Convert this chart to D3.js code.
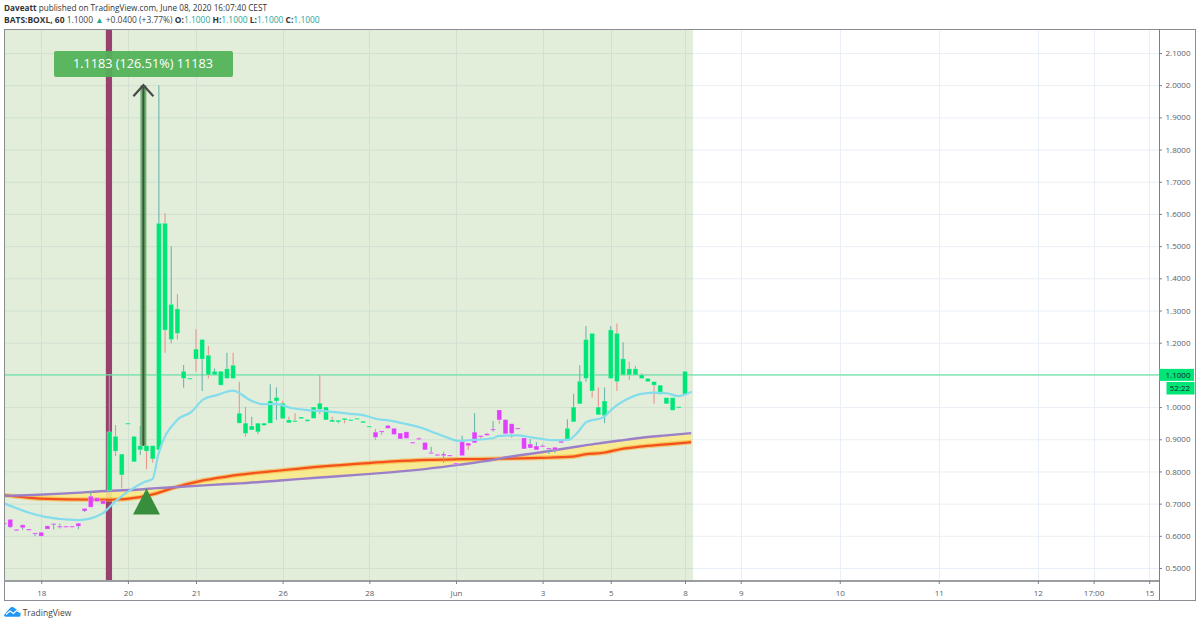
<!DOCTYPE html>
<html><head><meta charset="utf-8">
<script src="https://cdn.jsdelivr.net/npm/d3@7"></script>
<style>
html,body{margin:0;padding:0;background:#fff}
svg{display:block}
text{font-family:"Open Sans",sans-serif}
</style></head><body><svg id="c" width="1200" height="625"></svg>
<script>
const n = null;
const firstBar = -1;
const tops = [.640,.651,.620,.634,.621,.609,.611,.631,.638,.630,.630,.630,.639,.685,.723,.718,.709,
.923,.909,.854,.950,.909,.880,.880,.880,1.571,1.571,1.319,1.305,1.111,1.090,1.180,1.210,1.161,1.111,1.111,1.119,1.130,
.981,.950,.941,.950,.950,1.019,1.030,1.012,.960,.958,.969,.961,1.000,1.012,1.000,.960,.959,.965,.961,.965,.956,.941,
.922,.926,.943,.934,.919,.923,.891,.903,.890,.859,.853,.854,.851,.826,.892,.888,.922,.911,.917,.932,.991,.961,.948,.935,.904,.885,.879,.880,.873,.875,.894,
.934,1.000,1.080,1.210,1.229,1.000,1.019,1.240,1.229,1.150,1.119,1.119,1.100,1.089,1.079,1.068,1.029,1.029,1.001,1.111];
const bottoms = [.637,.627,.616,.625,.617,.607,.599,.621,.635,.627,.627,.627,.630,.677,.689,.707,.699,
.740,.863,.789,.947,.830,.867,.863,.839,.867,1.239,1.210,1.229,1.089,1.087,1.149,1.149,1.100,1.100,1.068,1.089,1.089,
.950,.918,.929,.923,.943,.950,1.019,.964,.951,.954,.964,.956,.965,.993,.960,.954,.954,.960,.958,.963,.951,.939,
.906,.922,.934,.915,.901,.903,.888,.899,.867,.856,.849,.849,.849,.824,.849,.880,.889,.907,.912,.929,.960,.917,.918,.933,.870,.873,.867,.877,.870,.867,.889,
.900,.954,1.010,1.089,1.050,.976,.973,1.089,1.079,1.100,1.100,1.100,1.089,1.079,1.068,1.040,1.010,.990,.999,1.040];
const highs = [n,n,n,n,n,n,n,n,n,.638,n,n,n,n,.739,n,n,
1.100,.944,n,n,n,.941,n,n,2.000,1.602,1.500,1.351,1.131,n,1.242,n,1.190,1.120,n,1.169,1.169,
1.079,1.001,.970,n,n,1.071,1.061,1.020,.970,.981,n,n,n,1.100,n,.970,n,n,n,n,n,n,
.932,n,n,n,n,n,n,.906,n,.877,n,.861,n,n,.911,n,.981,n,.920,.957,n,n,n,n,n,.901,.891,.884,n,n,n,
.962,1.041,1.130,1.252,n,1.061,1.061,1.252,1.260,1.201,1.141,1.128,1.105,n,n,n,n,n,n,n];
const lows = [n,.624,n,.618,n,.599,n,n,.620,.623,n,n,.621,.674,n,n,n,
n,.848,.748,n,n,.851,.807,.827,n,1.169,1.198,1.210,1.060,n,1.110,1.050,1.089,n,n,n,n,
n,.908,n,.916,n,n,.960,n,n,n,n,n,n,.978,n,n,.950,.950,n,n,n,n,
.898,.915,n,n,n,n,n,n,n,n,n,.827,n,n,n,.867,n,.898,n,.923,.948,n,.905,n,n,n,n,n,.854,.858,n,
n,n,n,1.079,1.029,n,.950,n,1.050,n,1.085,n,n,n,1.010,n,n,n,n,n];
const redWickBars = [17,18,22,23,25,27,30,32,36,37,38,44,45,46,50,52,54,59,66,74,76,77,79,81,94,95,98,100,101,102,104];
const magentaSpans = [[-1,15],[59,89]];

const cyanBars = [-.86,.44,3.18,5.6,10.94,14.77,16.91,19.02,21.76,23,23.9,26.88,29.3,31.13,33.34,35.98,38.9,40.82,43.04,45.19,48.42,51.65,54.88,56.98,59.19,61.34,64.04,66.19,68.29,70.5,72.37,74.75,77.98,78.79,81.81,84.44,85.57,87.67,90.1,91.5,93.12,95.8,97.16,99.58,101.73,103.88,106.04,107.91,110.08];
const cyanValues = [.700,.690,.671,.659,.649,.668,.706,.737,.768,.777,.851,.958,.986,1.023,1.037,1.051,1.020,1.009,1.009,.998,.990,.986,.979,.975,.963,.958,.947,.937,.922,.906,.895,.898,.903,.910,.912,.905,.902,.897,.898,.918,.954,.968,.993,1.024,1.040,1.045,1.043,1.034,1.048];

const bandBars = [-.86,3.67,9.11,16.11,20.95,23.65,26.33,30.65,34.96,37.1,43.57,50.03,56.5,61.82,67.27,72.65,77.98,80.2,85.57,90.9,92.84,95.8,98.5,101.7,106,110];
const purpleValues = [.724,.727,.732,.740,.744,.748,.751,.756,.761,.763,.772,.781,.790,.798,.808,.821,.836,.844,.859,.875,.881,.889,.896,.904,.912,.919];
const redValues = [.726,.717,.713,.712,.720,.732,.749,.770,.784,.790,.803,.815,.824,.831,.836,.838,.839,.840,.842,.846,.853,.858,.869,.877,.884,.891];

const priceTicks = [.5,.6,.7,.8,.9,1,1.1,1.2,1.3,1.4,1.5,1.6,1.7,1.8,1.9,2,2.1];
const timeTickBars = [5,19,30,44,58,72,86,97,109,118,134,150,166,175,184];
const timeTickLabels = ["18","20","21","26","28","Jun","3","5","8","9","10","11","12","17:00","15"];
const lastPrice = 1.1, zoneEndBar = 110.3, signalBar = 22, verticalBar = 16;
const arrowBar = 21.5, arrowFrom = .879, arrowTo = 2.0;

const W=1200,H=625, L=4.5,T=29.5,PR=1159,PB=581,FR=1195.5,FB=600.5;
const svg = d3.select("#c");
const x = d3.scaleLinear().domain([0,109]).range([10.3,685]);
const y = d3.scaleLinear().domain([.5,2.1]).range([568,53]);
const bars = d3.range(tops.length).map(k=>k+firstBar);
const isMag = b=>magentaSpans.some(s=>b>=s[0]&&b<=s[1]);

const clipId="plotclip";
svg.append("defs").append("clipPath").attr("id",clipId).append("rect").attr("x",L).attr("y",T).attr("width",PR-L).attr("height",PB-T);

// grid
const grid = svg.append("g");
grid.selectAll("line.h").data(priceTicks).join("line").attr("x1",L).attr("x2",PR).attr("y1",d=>y(d)+.5).attr("y2",d=>y(d)+.5).attr("stroke","#e9eff6");
grid.selectAll("line.v").data(timeTickBars).join("line").attr("y1",T).attr("y2",PB).attr("x1",d=>Math.round(x(d))+.5).attr("x2",d=>Math.round(x(d))+.5).attr("stroke","#e9eff6");

// green zone
svg.append("rect").attr("x",L).attr("y",T).attr("width",x(zoneEndBar)-L).attr("height",PB-T).attr("fill","rgb(110,170,70)").attr("fill-opacity",.2);

// vertical band
svg.append("rect").attr("x",x(verticalBar)-3.5).attr("y",T).attr("width",6.2).attr("height",PB-T).attr("fill","#99406f");

const plot = svg.append("g").attr("clip-path",`url(#${clipId})`);
const bandData = bandBars.map((b,i)=>({b,p:purpleValues[i],r:redValues[i]}));
plot.append("path").datum(bandData).attr("fill","#f8ea8a").attr("fill-opacity",.9)
  .attr("d",d3.area().x(d=>x(d.b)).y0(d=>y(d.p)).y1(d=>y(d.r)).curve(d3.curveMonotoneX));
plot.append("path").datum(bandData).attr("fill","none").attr("stroke","#f9a825").attr("stroke-opacity",.55).attr("stroke-width",4.6)
  .attr("d",d3.line().x(d=>x(d.b)).y(d=>y(d.r)).curve(d3.curveMonotoneX));
plot.append("path").datum(bandData).attr("fill","none").attr("stroke","#f4511e").attr("stroke-width",2.2)
  .attr("d",d3.line().x(d=>x(d.b)).y(d=>y(d.r)).curve(d3.curveMonotoneX));
plot.append("path").datum(bandData).attr("fill","none").attr("stroke","#9b7fc9").attr("stroke-width",2.4)
  .attr("d",d3.line().x(d=>x(d.b)).y(d=>y(d.p)).curve(d3.curveMonotoneX));

// price line
plot.append("line").attr("x1",L).attr("x2",PR).attr("y1",y(lastPrice)).attr("y2",y(lastPrice)).attr("stroke","#6fe3a7").attr("stroke-width",1.2);

// wicks
plot.selectAll("line.w").data(bars).join("line").attr("class","w")
  .attr("x1",b=>x(b)).attr("x2",b=>x(b))
  .attr("y1",(b,i)=>y(highs[i]===null?tops[i]:highs[i]))
  .attr("y2",(b,i)=>y(lows[i]===null?bottoms[i]:lows[i]))
  .attr("stroke",b=>redWickBars.includes(b)?"#e8968d":"#6fb5ad").attr("stroke-width",1.1);

// arrow
const arrow = plot.append("g");
arrow.append("line").attr("x1",x(arrowBar)).attr("x2",x(arrowBar)).attr("y1",y(arrowFrom)).attr("y2",y(arrowTo)).attr("stroke","#4caf50").attr("stroke-opacity",.85).attr("stroke-width",6);
arrow.append("line").attr("x1",x(arrowBar)).attr("x2",x(arrowBar)).attr("y1",y(arrowFrom)).attr("y2",y(arrowTo)).attr("stroke","#4a4a4a").attr("stroke-width",2);
arrow.append("path").attr("fill","none").attr("stroke","#4a4a4a").attr("stroke-width",2.2)
  .attr("d",d3.line()([[x(arrowBar)-10,y(arrowTo)+11],[x(arrowBar),y(arrowTo)],[x(arrowBar)+10,y(arrowTo)+11]]));

// bodies
plot.selectAll("rect.b").data(bars).join("rect").attr("class","b")
  .attr("x",b=>x(b)-2.4).attr("width",4.8)
  .attr("y",(b,i)=>y(tops[i]))
  .attr("height",(b,i)=>Math.max(1.2,y(bottoms[i])-y(tops[i])))
  .attr("fill",b=>isMag(b)?"#e040fb":"#00e676")
  .attr("stroke","#fff").attr("stroke-opacity",.3).attr("stroke-width",.8);

// cyan average
plot.append("path").datum(cyanBars.map((b,i)=>[x(b),y(cyanValues[i])])).attr("fill","none").attr("stroke","#84dcec").attr("stroke-width",2.2)
  .attr("stroke-linejoin","round").attr("d",d3.line().curve(d3.curveMonotoneX));

// triangle
const tx=x(signalBar);
plot.append("path").attr("fill","#388e3c").attr("d",d3.line()([[tx-13.5,514.5],[tx,488.5],[tx+13.5,514.5]])+"Z");

// profit label
svg.append("rect").attr("x",54).attr("y",51).attr("width",179).attr("height",26).attr("rx",2).attr("fill","#53b25a").attr("fill-opacity",.95);
svg.append("text").attr("x",143).attr("y",68.3).attr("text-anchor","middle").attr("fill","#fff").attr("font-size",12.7).text("1.1183 (126.51%) 11183");

// frame
svg.append("rect").attr("x",L).attr("y",T).attr("width",FR-L).attr("height",FB-T).attr("fill","none").attr("stroke","#8a8e94");

// axes
const yAxis = d3.axisRight(y).tickValues(priceTicks).tickFormat(d3.format(".4f")).tickSize(3).tickPadding(3.5);
const gy = svg.append("g").attr("transform",`translate(${PR},0)`).call(yAxis);
gy.select(".domain").attr("stroke","#7c8086").attr("d",`M0.5,${T}V${FB}`);
gy.selectAll(".tick line").attr("stroke","#7c8086");
gy.selectAll(".tick text").attr("fill","#5d6068").attr("font-size",8).attr("font-family",'"Open Sans",sans-serif');

const xAxis = d3.axisBottom(x).tickValues(timeTickBars).tickFormat((d,i)=>timeTickLabels[i]).tickSize(3).tickPadding(6.5);
const gx = svg.append("g").attr("transform",`translate(0,${PB})`).call(xAxis);
gx.select(".domain").attr("stroke","#9a9ea3").attr("stroke-width",2).attr("d",`M${L},0H${PR}`);
gx.selectAll(".tick line").attr("stroke","#7c8086");
gx.selectAll(".tick text").attr("fill","#5d6068").attr("font-size",8).attr("font-family",'"Open Sans",sans-serif');

// last price tags
svg.append("rect").attr("x",PR).attr("y",y(lastPrice)-6).attr("width",35).attr("height",12).attr("fill","#00e676");
svg.append("text").attr("x",PR+6.5).attr("y",y(lastPrice)+3).attr("font-size",8).attr("fill","#123").text(d3.format(".4f")(lastPrice));
svg.append("rect").attr("x",PR+7.5).attr("y",382).attr("width",28).attr("height",12.5).attr("fill","#00e676");
svg.append("text").attr("x",PR+21).attr("y",391).attr("text-anchor","middle").attr("font-size",8).attr("fill","#123").text("52:22");

// header
const h1 = svg.append("text").attr("x",4).attr("y",11).attr("font-size",8.2).attr("fill","#333");
h1.append("tspan").attr("font-weight",700).text("Daveatt");
h1.append("tspan").text(" published on TradingView.com, June 08, 2020 16:07:40 CEST");
const h2 = svg.append("text").attr("x",4).attr("y",22.5).attr("font-size",8.45).attr("fill","#444");
h2.append("tspan").attr("font-weight",700).attr("fill","#333").text("BATS:BOXL, 60");
const teal="#26a69a";
h2.append("tspan").text(" 1.1000 ");
h2.append("tspan").attr("fill",teal).text("▲");
h2.append("tspan").text(" +0.0400 (+3.77%) ");
[["O:","1.1000"],["H:","1.1000"],["L:","1.1000"],["C:","1.1000"]].forEach(([k,v])=>{
  h2.append("tspan").attr("font-weight",700).attr("fill","#333").text(k);
  h2.append("tspan").attr("fill",teal).text(v+" ");
});

// logo
svg.append("path").attr("fill","#2196f3").attr("d","M4,615 L9.5,608.5 Q12,606 14.5,608 L20.5,612.5 L20.5,615.5 Q20.5,616.8 19,616.8 L6,616.8 Q4,616.8 4,615Z");
svg.append("path").attr("fill","none").attr("stroke","#fff").attr("stroke-width",1.1).attr("d","M6,614.5 L10,611 L13.5,613.5 L16.5,610.5 L20,612.5");
svg.append("text").attr("x",22.7).attr("y",615.5).attr("font-size",8.5).attr("fill","#444").text("TradingView");
</script></body></html>
